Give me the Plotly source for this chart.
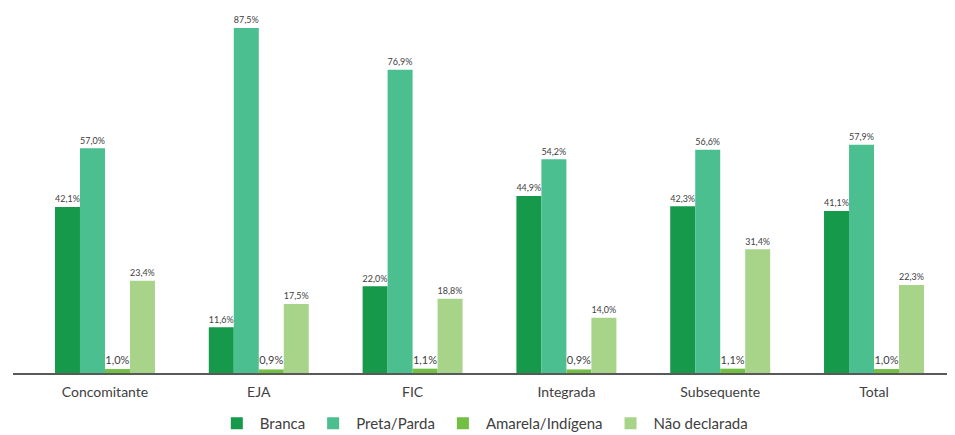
import plotly.graph_objects as go

categories = ["Concomitante", "EJA", "FIC", "Integrada", "Subsequente", "Total"]
series_names = ["Branca", "Preta/Parda", "Amarela/Indígena", "Não declarada"]
branca = [42.1, 11.6, 22.0, 44.9, 42.3, 41.1]
preta_parda = [57.0, 87.5, 76.9, 54.2, 56.6, 57.9]
amarela_indigena = [1.0, 0.9, 1.1, 0.9, 1.1, 1.0]
nao_declarada = [23.4, 17.5, 18.8, 14.0, 31.4, 22.3]
colors = ["#16994b", "#4bbf90", "#72bf44", "#a8d48a"]

series_values = [branca, preta_parda, amarela_indigena, nao_declarada]

fig = go.Figure()
for name, vals, col in zip(series_names, series_values, colors):
    fig.add_trace(go.Bar(
        x=list(range(len(categories))), y=vals, name=name,
        marker=dict(color=col, line=dict(width=0)),
        text=[f"{v:.1f}%".replace(".", ",") for v in vals],
        textposition="outside", cliponaxis=False,
        textfont=dict(size=11, color="#404040", family="Lato"),
    ))

fig.update_layout(
    width=947, height=427,
    margin=dict(l=5, r=7, t=12, b=62, autoexpand=False),
    paper_bgcolor="white", plot_bgcolor="white",
    barmode="group", bargap=0.35, bargroupgap=0,
    font=dict(family="Lato", color="#404040"),
    showlegend=True,
    legend=dict(orientation="h", x=0.503, xanchor="center", y=-0.143, yanchor="middle",
                font=dict(size=15, color="#404040"), traceorder="normal",
                itemwidth=36),
    xaxis=dict(tickmode="array", tickvals=list(range(len(categories))), ticktext=categories,
               range=[-0.598, 5.481], showline=True, linecolor="#595959", linewidth=1.5,
               showgrid=False, ticks="outside", ticklen=5, tickcolor="rgba(0,0,0,0)",
               tickfont=dict(size=14, color="#404040")),
    yaxis=dict(range=[0, 89.5], visible=False, showgrid=False),
)
fig.write_html("out.html")
